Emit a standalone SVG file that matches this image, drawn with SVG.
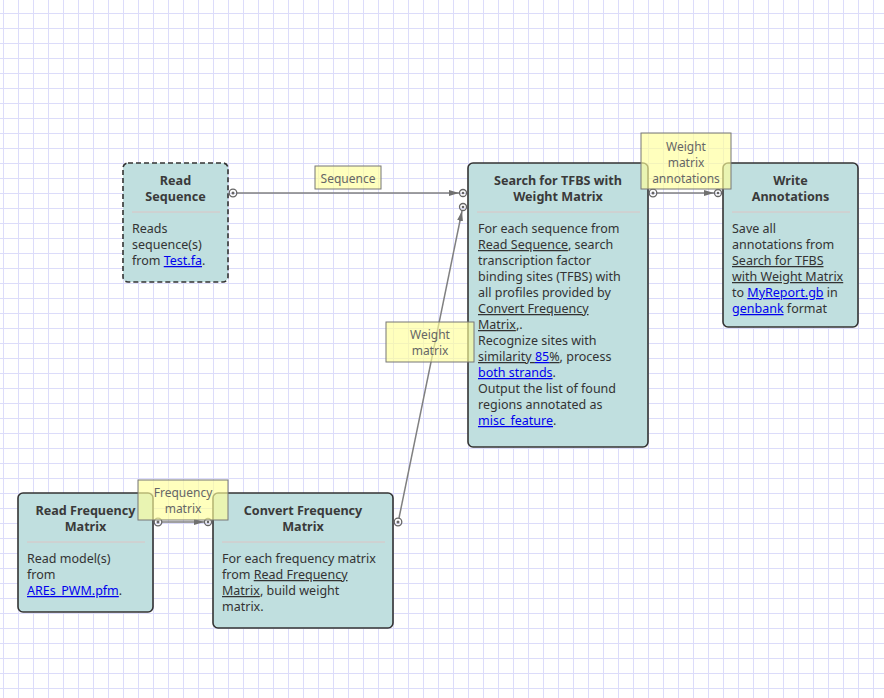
<svg xmlns="http://www.w3.org/2000/svg" width="884" height="698" viewBox="0 0 884 698">
<defs>
<pattern id="grid" x="3" y="13" width="15" height="15" patternUnits="userSpaceOnUse">
<path d="M0.5 0 V15 M0 0.5 H15" fill="none" stroke="#dcdcfa" stroke-width="1"/>
</pattern>
<marker id="arr" viewBox="0 0 10 8" refX="10" refY="4" markerWidth="10" markerHeight="8" markerUnits="userSpaceOnUse" orient="auto">
<path d="M0 1 L10 4 L0 7 Z" fill="#707070"/>
</marker>
</defs>
<style>
.node rect.box{fill:#c0dfdf;stroke:#333;stroke-width:1.6}
.dash{stroke-dasharray:5 3}
.t{font-family:"Noto Sans","DejaVu Sans",sans-serif;font-size:12.6px;font-weight:bold;fill:#3a3a3a;text-anchor:middle}
.b{font-family:"Noto Sans","DejaVu Sans",sans-serif;font-size:12.5px;fill:#333}
.lk{fill:#0000ee;text-decoration:underline}
.rf{text-decoration:underline}
.sep{stroke:#dcc4c4;stroke-width:1}
.edge{stroke:#808080;stroke-width:1.5;fill:none}
.port{fill:none;stroke:#666;stroke-width:1.3}
.dot{fill:#666}
.lbl rect{fill:#ffff99;fill-opacity:0.65;stroke:#777;stroke-width:1}
.lbl text{font-family:"Noto Sans","DejaVu Sans",sans-serif;font-size:12px;fill:#666;text-anchor:middle}
</style>
<rect width="884" height="698" fill="#fff"/>
<rect width="884" height="698" fill="url(#grid)"/>

<g id="read-sequence" class="node">
<rect class="box dash" x="123" y="163" width="105" height="119" rx="5"/>
<text class="t" x="175.5" y="185">Read</text>
<text class="t" x="175.5" y="201">Sequence</text>
<line class="sep" x1="132" y1="212" x2="220" y2="212"/>
<text class="b" x="132" y="233">Reads</text>
<text class="b" x="132" y="249">sequence(s)</text>
<text class="b" x="132" y="265">from <tspan class="lk">Test.fa</tspan>.</text>
</g>

<g id="search-tfbs" class="node">
<rect class="box" x="468" y="163" width="180" height="284" rx="5"/>
<text class="t" x="558" y="185">Search for TFBS with</text>
<text class="t" x="558" y="201">Weight Matrix</text>
<line class="sep" x1="477" y1="212" x2="640" y2="212"/>
<text class="b" x="478" y="233">For each sequence from</text>
<text class="b" x="478" y="249"><tspan class="rf">Read Sequence</tspan>, search</text>
<text class="b" x="478" y="265">transcription factor</text>
<text class="b" x="478" y="281">binding sites (TFBS) with</text>
<text class="b" x="478" y="297">all profiles provided by</text>
<text class="b" x="478" y="313"><tspan class="rf">Convert Frequency</tspan></text>
<text class="b" x="478" y="329"><tspan class="rf">Matrix</tspan>,.</text>
<text class="b" x="478" y="345">Recognize sites with</text>
<text class="b" x="478" y="361"><tspan class="rf">similarity </tspan><tspan class="lk">85</tspan><tspan class="rf">%</tspan>, process</text>
<text class="b" x="478" y="377"><tspan class="lk">both strands</tspan>.</text>
<text class="b" x="478" y="393">Output the list of found</text>
<text class="b" x="478" y="409">regions annotated as</text>
<text class="b" x="478" y="425"><tspan class="lk">misc_feature</tspan>.</text>
</g>

<g id="write-annotations" class="node">
<rect class="box" x="723" y="163" width="135" height="164" rx="5"/>
<text class="t" x="790.5" y="185">Write</text>
<text class="t" x="790.5" y="201">Annotations</text>
<line class="sep" x1="732" y1="212" x2="850" y2="212"/>
<text class="b" x="732" y="233">Save all</text>
<text class="b" x="732" y="249">annotations from</text>
<text class="b" x="732" y="265"><tspan class="rf">Search for TFBS</tspan></text>
<text class="b" x="732" y="281"><tspan class="rf">with Weight Matrix</tspan></text>
<text class="b" x="732" y="297">to <tspan class="lk">MyReport.gb</tspan> in</text>
<text class="b" x="732" y="313"><tspan class="lk">genbank</tspan> format</text>
</g>

<g id="read-frequency-matrix" class="node">
<rect class="box" x="18" y="493" width="135" height="119" rx="5"/>
<text class="t" x="85.5" y="515">Read Frequency</text>
<text class="t" x="85.5" y="531">Matrix</text>
<line class="sep" x1="27" y1="542" x2="145" y2="542"/>
<text class="b" x="27" y="563">Read model(s)</text>
<text class="b" x="27" y="579">from</text>
<text class="b" x="27" y="595"><tspan class="lk">AREs_PWM.pfm</tspan>.</text>
</g>

<g id="convert-frequency-matrix" class="node">
<rect class="box" x="213" y="493" width="180" height="135" rx="5"/>
<text class="t" x="303" y="515">Convert Frequency</text>
<text class="t" x="303" y="531">Matrix</text>
<line class="sep" x1="222" y1="542" x2="385" y2="542"/>
<text class="b" x="222" y="563">For each frequency matrix</text>
<text class="b" x="222" y="579">from <tspan class="rf">Read Frequency</tspan></text>
<text class="b" x="222" y="595"><tspan class="rf">Matrix</tspan>, build weight</text>
<text class="b" x="222" y="611">matrix.</text>
</g>

<g id="connectors">
<line class="edge" x1="237" y1="193" x2="459" y2="193" marker-end="url(#arr)"/>
<line class="edge" x1="399" y1="518" x2="462" y2="211" marker-end="url(#arr)"/>
<line class="edge" x1="162" y1="522" x2="204" y2="522" marker-end="url(#arr)"/>
<line class="edge" x1="657" y1="193" x2="714" y2="193" marker-end="url(#arr)"/>
<circle class="port" cx="233" cy="193" r="3.8"/><circle class="dot" cx="233" cy="193" r="1.5"/>
<circle class="port" cx="463" cy="193" r="3.5"/><circle class="dot" cx="463" cy="193" r="1.3"/>
<circle class="port" cx="463" cy="207" r="3.5"/><circle class="dot" cx="463" cy="207" r="1.3"/>
<circle class="port" cx="398" cy="522" r="3.8"/><circle class="dot" cx="398" cy="522" r="1.5"/>
<circle class="port" cx="158" cy="522" r="3.8"/><circle class="dot" cx="158" cy="522" r="1.5"/>
<circle class="port" cx="208" cy="522" r="3.5"/><circle class="dot" cx="208" cy="522" r="1.3"/>
<circle class="port" cx="653" cy="193" r="3.8"/><circle class="dot" cx="653" cy="193" r="1.5"/>
<circle class="port" cx="718" cy="193" r="3.5"/><circle class="dot" cx="718" cy="193" r="1.3"/>
</g>

<g id="labels">
<g class="lbl"><rect x="315" y="166" width="66" height="23"/><text x="348" y="183">Sequence</text></g>
<g class="lbl"><rect x="386" y="322" width="88" height="40"/><text x="430" y="339">Weight</text><text x="430" y="355">matrix</text></g>
<g class="lbl"><rect x="138" y="480" width="90" height="40"/><text x="183" y="497">Frequency</text><text x="183" y="513">matrix</text></g>
<g class="lbl"><rect x="641" y="133" width="90" height="56"/><text x="686" y="151">Weight</text><text x="686" y="167">matrix</text><text x="686" y="183">annotations</text></g>
</g>
</svg>
